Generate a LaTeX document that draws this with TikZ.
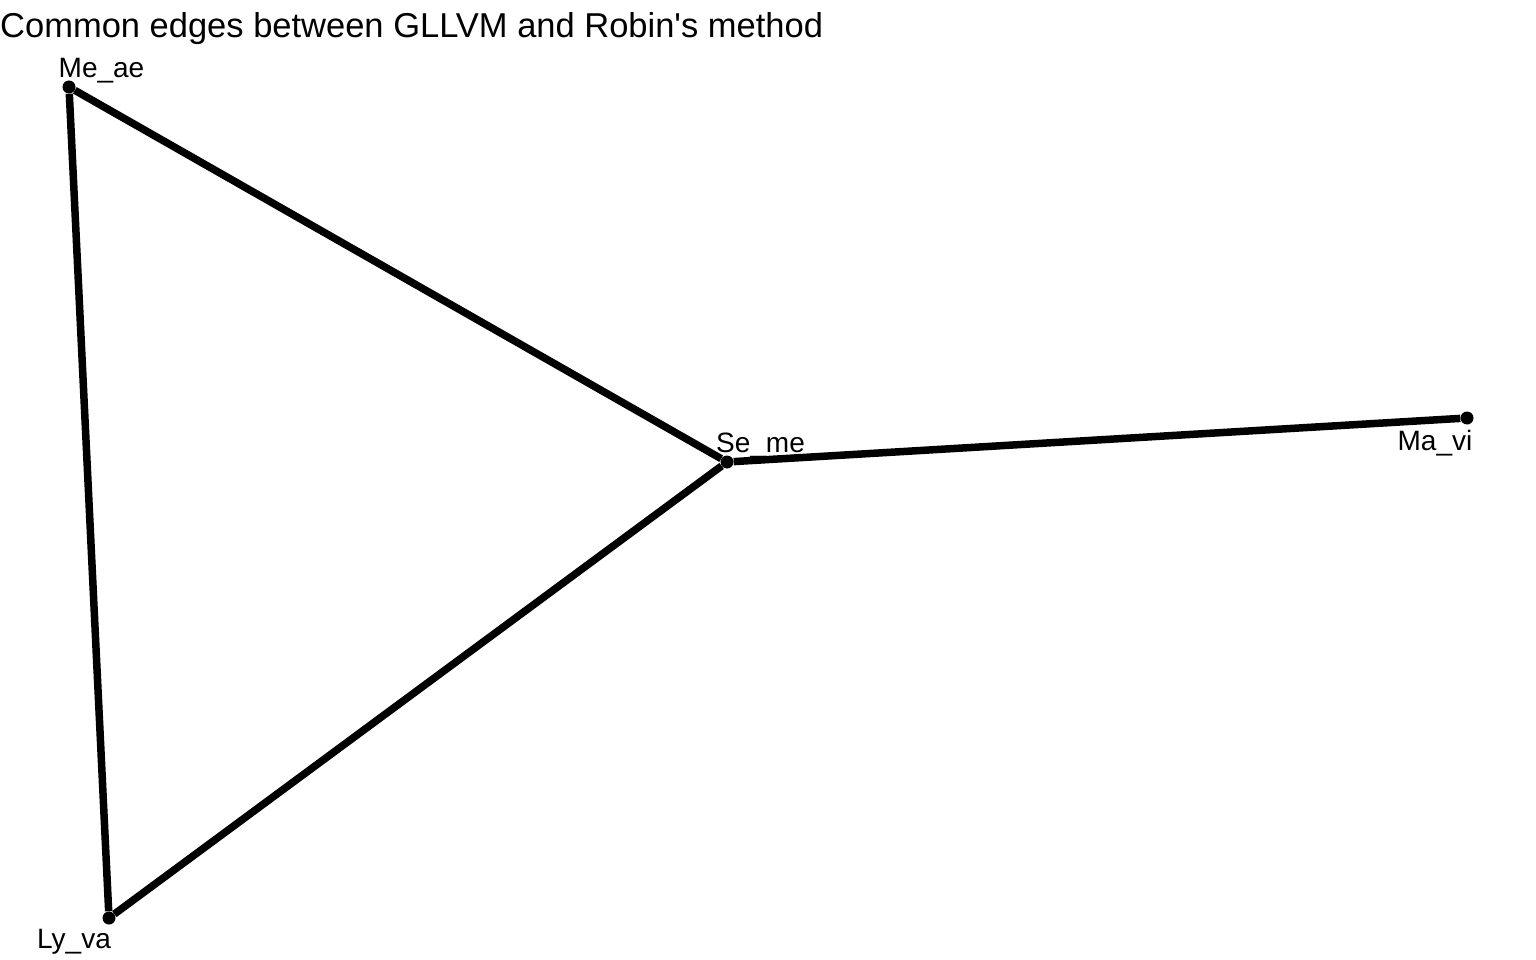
\documentclass[tikz,border=0pt]{standalone}
\usepackage{fontspec}
\setmainfont{Liberation Sans}
\usetikzlibrary{positioning}

\begin{document}
\begin{tikzpicture}[
  x=1pt, y=-1pt,
  vertex/.style={circle,fill,inner sep=0pt,minimum size=13pt},
  lab/.style={inner sep=0pt,font=\fontsize{28}{34}\selectfont},
  edge/.style={line width=7.5pt},
  ]
  \useasboundingbox (0,0) rectangle (1536,960);
  \node[anchor=base west,inner sep=0pt,font=\fontsize{34.5}{41}\selectfont] (title) at (0,38) {Common edges between GLLVM and Robin\textquotesingle s method};

  \node[vertex, label={[lab,xshift=32.5pt,yshift=16pt]center:Me\_ae}] (Meae) at (69,87) {};
  \node[vertex, label={[lab,xshift=-35pt,yshift=-24pt]center:Ly\_va}] (Lyva) at (109,918) {};
  \node[vertex, label={[lab,xshift=33.5pt,yshift=16pt]center:Se\_me}] (Seme) at (727,462) {};
  \node[vertex, label={[lab,xshift=-32pt,yshift=-25pt]center:Ma\_vi}] (Mavi) at (1467,418) {};

  \draw [edge] (Meae) -- (Lyva);
  \draw [edge] (Meae) -- (Seme);
  \draw [edge] (Lyva) -- (Seme);
  \draw [edge] (Seme) -- (Mavi);

\end{tikzpicture}
\end{document}
